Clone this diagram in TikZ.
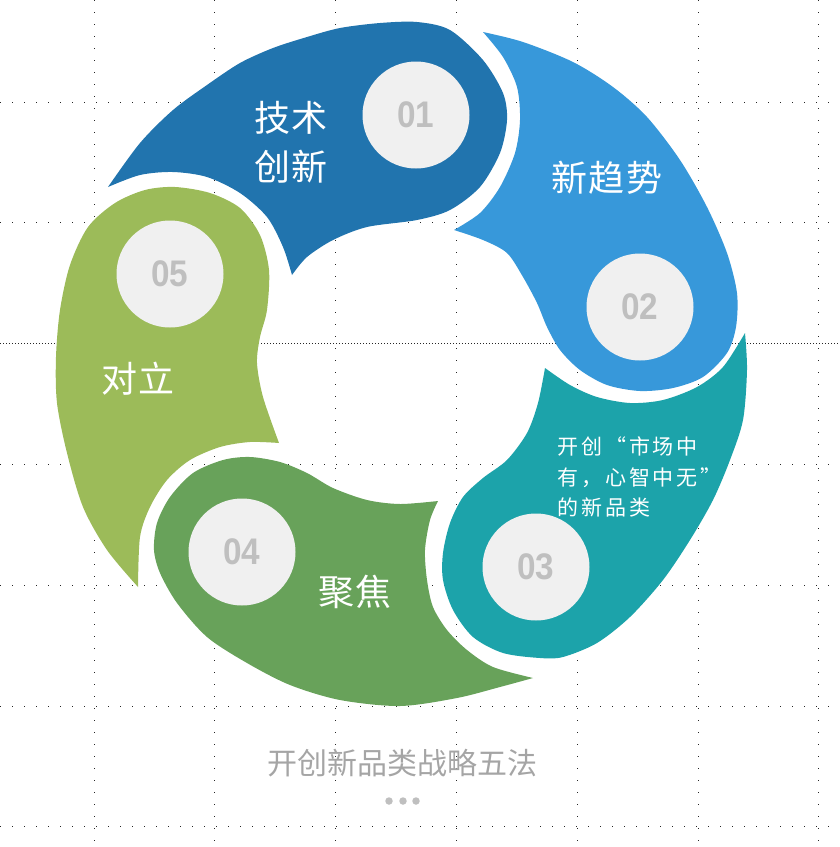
\documentclass[tikz,border=0pt]{standalone}
\usepackage{fontspec}
\usepackage{tikz}
\newfontfamily\cjk{Noto Sans CJK SC}
\newfontfamily\cjkwide[LetterSpace=4]{Noto Sans CJK SC}
\newfontfamily\cjknote[LetterSpace=14]{Noto Sans CJK SC}
\newfontfamily\numfont[BoldFont={Liberation Sans Bold}]{Liberation Sans}
\definecolor{petalA}{RGB}{33,116,174}
\definecolor{petalB}{RGB}{55,152,218}
\definecolor{petalC}{RGB}{28,163,170}
\definecolor{petalD}{RGB}{104,162,90}
\definecolor{petalE}{RGB}{156,187,89}
\definecolor{numfill}{RGB}{240,240,240}
\definecolor{numtext}{RGB}{191,191,191}
\definecolor{titlegray}{RGB}{165,165,165}
\newcommand{\numtxt}[1]{\scalebox{0.9}[1]{#1}}
\tikzset{
  griddot/.style = {black!85, line width=1pt, dash pattern=on 1pt off 11pt},% grille pointillee
  griddense/.style = {black!85, line width=1pt, dash pattern=on 1pt off 2pt},
  numnode/.style = {circle, fill=numfill, minimum size=107pt, inner sep=0pt,
    text=numtext, font=\numfont\bfseries\fontsize{37}{37}\selectfont},% cercle numero
  lbl/.style = {white, align=center, inner sep=0pt, font=\cjkwide\fontsize{36}{49}\selectfont},
  note/.style = {white, align=left, inner sep=0pt, font=\cjknote\fontsize{21}{30.5}\selectfont},
  dotnode/.style = {circle, fill=numtext, minimum size=7.5pt, inner sep=0pt},
}
\begin{document}
\begin{tikzpicture}[x=1pt,y=-1pt]
  \useasboundingbox (0,0) rectangle (840,847);

  % grille
  \foreach \gx in {94,214.8,335.6,456.4,577.2,698,818.8}
    \draw[griddot] (\gx,0) -- (\gx,847);
  \foreach \gy in {102,222.8,464.4,585.2,706,826.8}
    \draw[griddot] (0,\gy) -- (840,\gy);
  \draw[griddense] (0,343.6) -- (840,343.6);

  % 01 technique
  \fill[petalA] plot[smooth] coordinates {(108,187) (140,143) (173,110) (207,85) (240,63)
      (273,48) (307,37) (340,28) (380,23) (417,22) (450,30) (483,60) (503,93) (507,120)
      (500,153) (480,187) (450,210) (417,220) (367,227) (333,240) (307,257) (292,275)}
    -- plot[smooth] coordinates {(292,275) (283,247) (267,217) (240,193) (207,177)
      (173,172) (140,175) (108,187)} -- cycle;
  % 02 tendance
  \fill[petalB] plot[smooth] coordinates {(483,32) (523,42) (573,62) (613,87) (647,117)
      (680,160) (707,207) (727,253) (737,293) (736,327) (727,353) (703,377) (673,388)
      (640,391) (607,385) (580,370) (560,350) (547,327) (537,303) (523,277) (507,253)
      (483,240) (454,230)}
    -- plot[smooth] coordinates {(454,230) (480,213) (500,187) (515,153) (520,120)
      (517,87) (503,57) (483,32)} -- cycle;
  % 03 marche
  \fill[petalC] plot[smooth] coordinates {(745,333) (747,370) (743,420) (730,460) (713,500)
      (690,540) (663,580) (630,617) (597,643) (563,657) (540,658) (503,653) (473,637)
      (453,610) (443,580) (443,553) (450,523) (463,497) (483,478) (507,460) (527,433)
      (538,403) (545,368)}
    -- plot[smooth] coordinates {(545,368) (570,385) (597,397) (630,403) (663,400)
      (697,387) (723,367) (745,333)} -- cycle;
  % 04 focus
  \fill[petalD] plot[smooth] coordinates {(533,678) (500,687) (457,698) (400,706) (340,700)
      (290,685) (247,663) (207,637) (177,603) (160,573) (154,550) (157,523) (170,497)
      (193,473) (223,460) (250,457) (280,462) (307,473) (333,488) (367,500) (400,504)
      (438,501)}
    -- plot[smooth] coordinates {(438,501) (430,520) (425,550) (427,580) (433,607)
      (447,630) (467,650) (493,667) (533,678)} -- cycle;
  % 05 opposition
  \fill[petalE] plot[smooth] coordinates {(138,587) (107,550) (83,507) (67,453) (57,403)
      (56,357) (60,310) (70,265) (88,227) (115,203) (145,190) (175,187) (210,193)
      (240,208) (260,235) (269,270) (267,310) (260,337) (257,363) (263,397) (279,443)}
    -- plot[smooth] coordinates {(279,443) (250,442) (220,447) (190,460) (167,480)
      (150,507) (140,537) (138,587)} -- cycle;

  % numeros
  \node[numnode] (n01) at (416,115) {\numtxt{01}};
  \node[numnode] (n02) at (640,307) {\numtxt{02}};
  \node[numnode] (n03) at (536,567) {\numtxt{03}};
  \node[numnode] (n04) at (242,552) {\numtxt{04}};
  \node[numnode] (n05) at (170,274) {\numtxt{05}};

  % textes
  \node[lbl] (l01) at (291,142) {技术\\创新};
  \node[lbl] (l02) at (607,178) {新趋势};
  \node[note, anchor=west] (l03) at (557,477) {开创“市场中\\有，心智中无”\\的新品类};
  \node[lbl] (l04) at (355,592) {聚焦};
  \node[lbl] (l05) at (138,379) {对立};

  % titre
  \node[text=titlegray, font=\cjk\fontsize{30}{30}\selectfont] (title) at (402,763) {开创新品类战略五法};
  \node[dotnode] (d1) at (389,801) {};
  \node[dotnode] (d2) at (403,801) {};
  \node[dotnode] (d3) at (416,801) {};
\end{tikzpicture}
\end{document}
